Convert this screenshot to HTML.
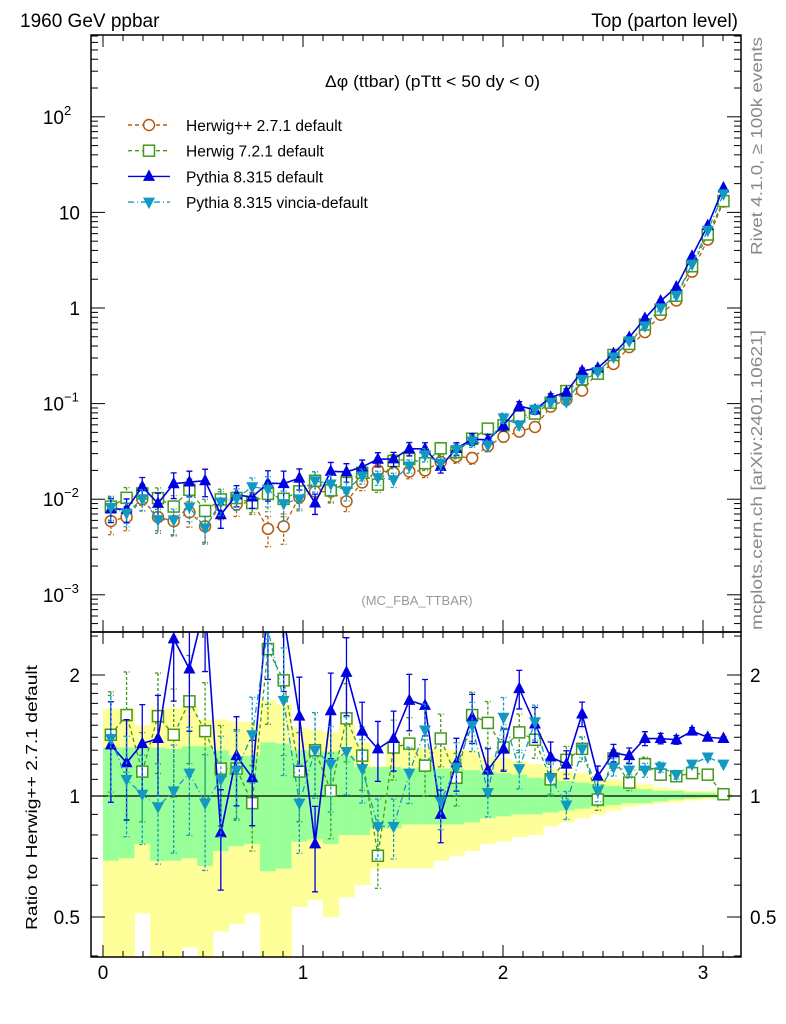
<!DOCTYPE html>
<html><head><meta charset="utf-8"><style>
body{margin:0;background:#fff;}
svg{display:block;font-family:"Liberation Sans",sans-serif;}
</style></head><body>
<svg id="c" width="786" height="1024" viewBox="0 0 786 1024" xmlns="http://www.w3.org/2000/svg">
<defs>
<clipPath id="mainClip"><rect x="91" y="35" width="650" height="597"/></clipPath>
<clipPath id="ratClip"><rect x="91" y="632" width="650" height="325"/></clipPath>
</defs>
<text x="20" y="27" font-size="19">1960 GeV ppbar</text>
<text x="738" y="27" font-size="19" text-anchor="end">Top (parton level)</text>
<g id="bands" clip-path="url(#ratClip)"></g>
<g id="ratioLayer" clip-path="url(#ratClip)"></g>
<g id="mainLayer" clip-path="url(#mainClip)"></g>
<g id="axes"></g>
<text x="325" y="87" font-size="17" textLength="215" lengthAdjust="spacingAndGlyphs">Δφ (ttbar) (pTtt &lt; 50 dy &lt; 0)</text>
<text x="417" y="605" font-size="13" fill="#999" text-anchor="middle">(MC_FBA_TTBAR)</text>
<text transform="translate(762,255) rotate(-90)" font-size="16" fill="#888" textLength="218" lengthAdjust="spacingAndGlyphs">Rivet 4.1.0, ≥ 100k events</text>
<text transform="translate(762,630) rotate(-90)" font-size="16" fill="#888" textLength="300" lengthAdjust="spacingAndGlyphs">mcplots.cern.ch [arXiv:2401.10621]</text>
<text transform="translate(37,930) rotate(-90)" font-size="16" textLength="265" lengthAdjust="spacingAndGlyphs">Ratio to Herwig++ 2.7.1 default</text>
<g id="legend"></g>
</svg>
<script>
const hwppValues=[0.0059,0.0065,0.010,0.0065,0.0059,0.0073,0.0052,0.0085,0.0088,0.0095,0.0049,0.0052,0.0105,0.012,0.012,0.0095,0.015,0.020,0.019,0.0195,0.020,0.0245,0.028,0.027,0.036,0.045,0.051,0.057,0.093,0.11,0.137,0.21,0.26,0.39,0.56,0.85,1.2,2.4,5.2,13];
const hw7Ratio=[1.42,1.59,1.15,1.58,1.42,1.72,1.45,1.17,1.17,0.96,2.32,1.94,1.15,1.30,1.03,1.56,1.26,0.71,1.32,1.35,1.19,1.39,1.11,1.59,1.52,1.32,1.44,1.38,1.10,1.23,1.31,0.98,1.24,1.08,1.20,1.13,1.12,1.14,1.13,1.01];
const py8Ratio=[1.34,1.21,1.35,1.39,2.46,2.07,3.0,0.81,1.26,1.11,3.0,2.8,1.58,0.76,1.63,2.03,1.45,1.31,1.39,1.73,1.68,0.90,1.21,1.57,1.16,1.31,1.85,1.51,1.25,1.20,1.60,1.12,1.28,1.26,1.39,1.39,1.38,1.45,1.40,1.39];
const vinRatio=[1.39,1.10,1.01,0.94,1.03,1.14,0.96,1.10,1.16,1.42,2.6,1.73,0.96,1.30,1.20,1.29,1.17,0.84,0.84,1.14,1.46,0.97,1.18,1.50,1.02,1.57,1.17,1.53,1.11,0.95,1.31,1.03,1.18,1.16,1.16,1.18,1.13,1.20,1.25,1.20];
const errFrac=[0.28,0.28,0.25,0.28,0.3,0.3,0.32,0.28,0.25,0.24,0.35,0.35,0.25,0.24,0.24,0.22,0.18,0.17,0.17,0.16,0.16,0.15,0.15,0.14,0.13,0.12,0.11,0.1,0.09,0.08,0.07,0.06,0.05,0.045,0.04,0.03,0.025,0.02,0.015,0.01];
const yelHi=[1.65,1.65,1.50,1.65,1.65,1.68,1.55,1.55,1.53,1.53,1.73,1.69,1.48,1.46,1.44,1.51,1.36,1.19,1.36,1.32,1.32,1.31,1.30,1.30,1.25,1.24,1.22,1.20,1.17,1.15,1.14,1.11,1.10,1.08,1.07,1.05,1.04,1.03,1.03,1.02];
const grnHi=[1.32,1.32,1.32,1.32,1.31,1.33,1.33,1.30,1.26,1.26,1.36,1.35,1.30,1.29,1.29,1.26,1.18,1.18,1.18,1.17,1.18,1.17,1.17,1.16,1.15,1.14,1.13,1.11,1.10,1.09,1.08,1.07,1.06,1.05,1.04,1.03,1.03,1.02,1.02,1.01];
const grnLo=[0.69,0.70,0.76,0.69,0.69,0.70,0.67,0.73,0.75,0.76,0.65,0.66,0.77,0.78,0.76,0.80,0.80,0.83,0.83,0.85,0.85,0.85,0.85,0.86,0.88,0.89,0.90,0.90,0.91,0.92,0.93,0.94,0.95,0.96,0.96,0.97,0.98,0.985,0.99,0.99];
const yelLo=[0.3,0.3,0.51,0.3,0.3,0.42,0.3,0.46,0.48,0.51,0.3,0.3,0.53,0.55,0.50,0.56,0.60,0.66,0.66,0.66,0.66,0.69,0.71,0.73,0.76,0.77,0.79,0.80,0.84,0.86,0.88,0.90,0.92,0.94,0.95,0.96,0.965,0.975,0.98,0.99];
const mainTickLabels=[["10","2"],["10",""],["1",""],["10","−1"],["10","−2"],["10","−3"]];
const mainTickExps=[2,1,0,-1,-2,-3];
const ratioTicks=[2,1,0.5];
const xTicks=[0,1,2,3];
const legendLabels=["Herwig++ 2.7.1 default","Herwig 7.2.1 default","Pythia 8.315 default","Pythia 8.315 vincia-default"];

const NS="http://www.w3.org/2000/svg";
const X=v=>103+v*200;
const Y=v=>308-95.6*Math.log10(v);
const R=v=>796-121*Math.log2(v);
const BW=Math.PI/40;
function mk(t,a,p){const e=document.createElementNS(NS,t);for(const k in a)e.setAttribute(k,a[k]);p.appendChild(e);return e;}
const bands=document.getElementById('bands'),ratL=document.getElementById('ratioLayer'),mainL=document.getElementById('mainLayer'),axes=document.getElementById('axes'),leg=document.getElementById('legend');

for(let i=0;i<40;i++){
  const x0=X(i*BW),x1=X((i+1)*BW);
  const y=mk('rect',{x:x0,y:R(yelHi[i]),width:x1-x0+0.5,height:R(yelLo[i])-R(yelHi[i]),fill:'#ffff99'},bands);
  
  
  const g=mk('rect',{x:x0,y:R(grnHi[i]),width:x1-x0+0.5,height:R(grnLo[i])-R(grnHi[i]),fill:'#99ff99'},bands);
  
  
}
const one=mk('line',{x1:91,x2:741,y1:R(1),y2:R(1),stroke:'#000','stroke-width':1.3},ratL);



const series=[
 {name:'herwigpp',color:'#b35c0c',dash:'4,3',mk:'circle',ratio:null},
 {name:'herwig7',color:'#44991a',dash:'4,3',mk:'square',ratio:hw7Ratio},
 {name:'pythia8',color:'#0000e0',dash:'',mk:'up',ratio:py8Ratio},
 {name:'vincia',color:'#1199c4',dash:'6,3,1,3',mk:'down',ratio:vinRatio}
];
function marker(type,x,y,c,p){
  let e;
  if(type==='circle')e=mk('circle',{cx:x,cy:y,r:5.5,fill:'#fff',stroke:c,'stroke-width':1.5},p);
  else if(type==='square')e=mk('rect',{x:x-5.5,y:y-5.5,width:11,height:11,fill:'#fff',stroke:c,'stroke-width':1.5},p);
  else if(type==='up')e=mk('polygon',{points:`${x},${y-7} ${x-6},${y+4.5} ${x+6},${y+4.5}`,fill:c},p);
  else e=mk('polygon',{points:`${x},${y+7} ${x-6},${y-4.5} ${x+6},${y-4.5}`,fill:c},p);
  return e;
}
function drawSeries(layer,vals,scale,s,isRatio){
  let d='';
  vals.forEach((v,i)=>{const x=X((i+0.5)*BW);d+=(i?'L':'M')+x+','+scale(v);});
  const pl=mk('path',{d:d,fill:'none',stroke:s.color,'stroke-width':s.mk==='up'?1.6:1.3,'stroke-dasharray':s.dash},layer);
  
  
  vals.forEach((v,i)=>{
    const x=X((i+0.5)*BW),e=errFrac[i];
    const yt=scale(v*(1+e)),yb=scale(Math.max(v*(1-e),1e-9));
    const eb=mk('path',{d:`M${x},${yt}L${x},${yb}M${x-3},${yt}L${x+3},${yt}M${x-3},${yb}L${x+3},${yb}`,stroke:s.color,'stroke-width':1.3,'stroke-dasharray':s.dash?'3,2':'',fill:'none'},layer);
    
    
    const m=marker(s.mk,x,scale(v),s.color,layer);
    
    
  });
}
series.forEach(s=>{
  const vals=s.ratio?hwppValues.map((h,i)=>h*s.ratio[i]):hwppValues;
  drawSeries(mainL,vals,Y,s,false);
  if(s.ratio)drawSeries(ratL,s.ratio,R,s,true);
});

const f1=mk('rect',{x:91,y:35,width:650,height:597,fill:'none',stroke:'#000','stroke-width':1.5},axes);


const f2=mk('rect',{x:91,y:632,width:650,height:325,fill:'none',stroke:'#000','stroke-width':1.5},axes);


for(let k=0;k<=31;k++){
  const v=k/10,x=X(v),maj=k%10===0,L=maj?12:6;
  [[35,1],[632,-1],[632,1],[957,-1]].forEach(([y0,dir])=>{
    const t=mk('line',{x1:x,x2:x,y1:y0,y2:y0+dir*L,stroke:'#000','stroke-width':1},axes);
    
    
  });
}
xTicks.forEach(v=>{
  const t=mk('text',{x:X(v),y:979,'font-size':19,'text-anchor':'middle'},axes);t.textContent=v;
  
  
});
for(let e=-4;e<=2;e++)for(let m=1;m<10;m++){
  const v=m*Math.pow(10,e),y=Y(v);if(y<35||y>632)continue;
  const L=m===1?14:7;
  [[91,1],[741,-1]].forEach(([x0,dir])=>{
    const t=mk('line',{x1:x0,x2:x0+dir*L,y1:y,y2:y,stroke:'#000','stroke-width':1},axes);
    
    
  });
}
mainTickExps.forEach((e,i)=>{
  const y=Y(Math.pow(10,e)),lab=mainTickLabels[i];
  const t=mk('text',{x:lab[1]?64:80,y:y+7,'font-size':19,'text-anchor':'end'},axes);t.textContent=lab[0];
  
  
  if(lab[1]){const s=mk('text',{x:64,y:y-2,'font-size':13},axes);s.textContent=lab[1];
  
  }
});
[0.4,0.5,0.6,0.7,0.8,0.9,1,1.1,1.2,1.3,1.4,1.5,1.6,1.7,1.8,1.9,2,2.5].forEach(v=>{
  const y=R(v),maj=ratioTicks.includes(v),L=maj?14:7;
  [[91,1],[741,-1]].forEach(([x0,dir])=>{
    const t=mk('line',{x1:x0,x2:x0+dir*L,y1:y,y2:y,stroke:'#000','stroke-width':1},axes);
    
    
  });
});
ratioTicks.forEach(v=>{
  [[80,'end'],[750,'start']].forEach(([x,a])=>{
    const t=mk('text',{x:x,y:R(v)+7,'font-size':19,'text-anchor':a},axes);t.textContent=v;
    
    
  });
});
series.forEach((s,i)=>{
  const y=125+i*25.7;
  const g=mk('g',{},leg);
  
  
  mk('line',{x1:128,x2:170,y1:y,y2:y,stroke:s.color,'stroke-width':1.4,'stroke-dasharray':s.dash},g);
  marker(s.mk,149,y,s.color,g);
  const t=mk('text',{x:186,y:y+6,'font-size':15.5},g);t.textContent=legendLabels[i];
});
</script>
</body></html>
